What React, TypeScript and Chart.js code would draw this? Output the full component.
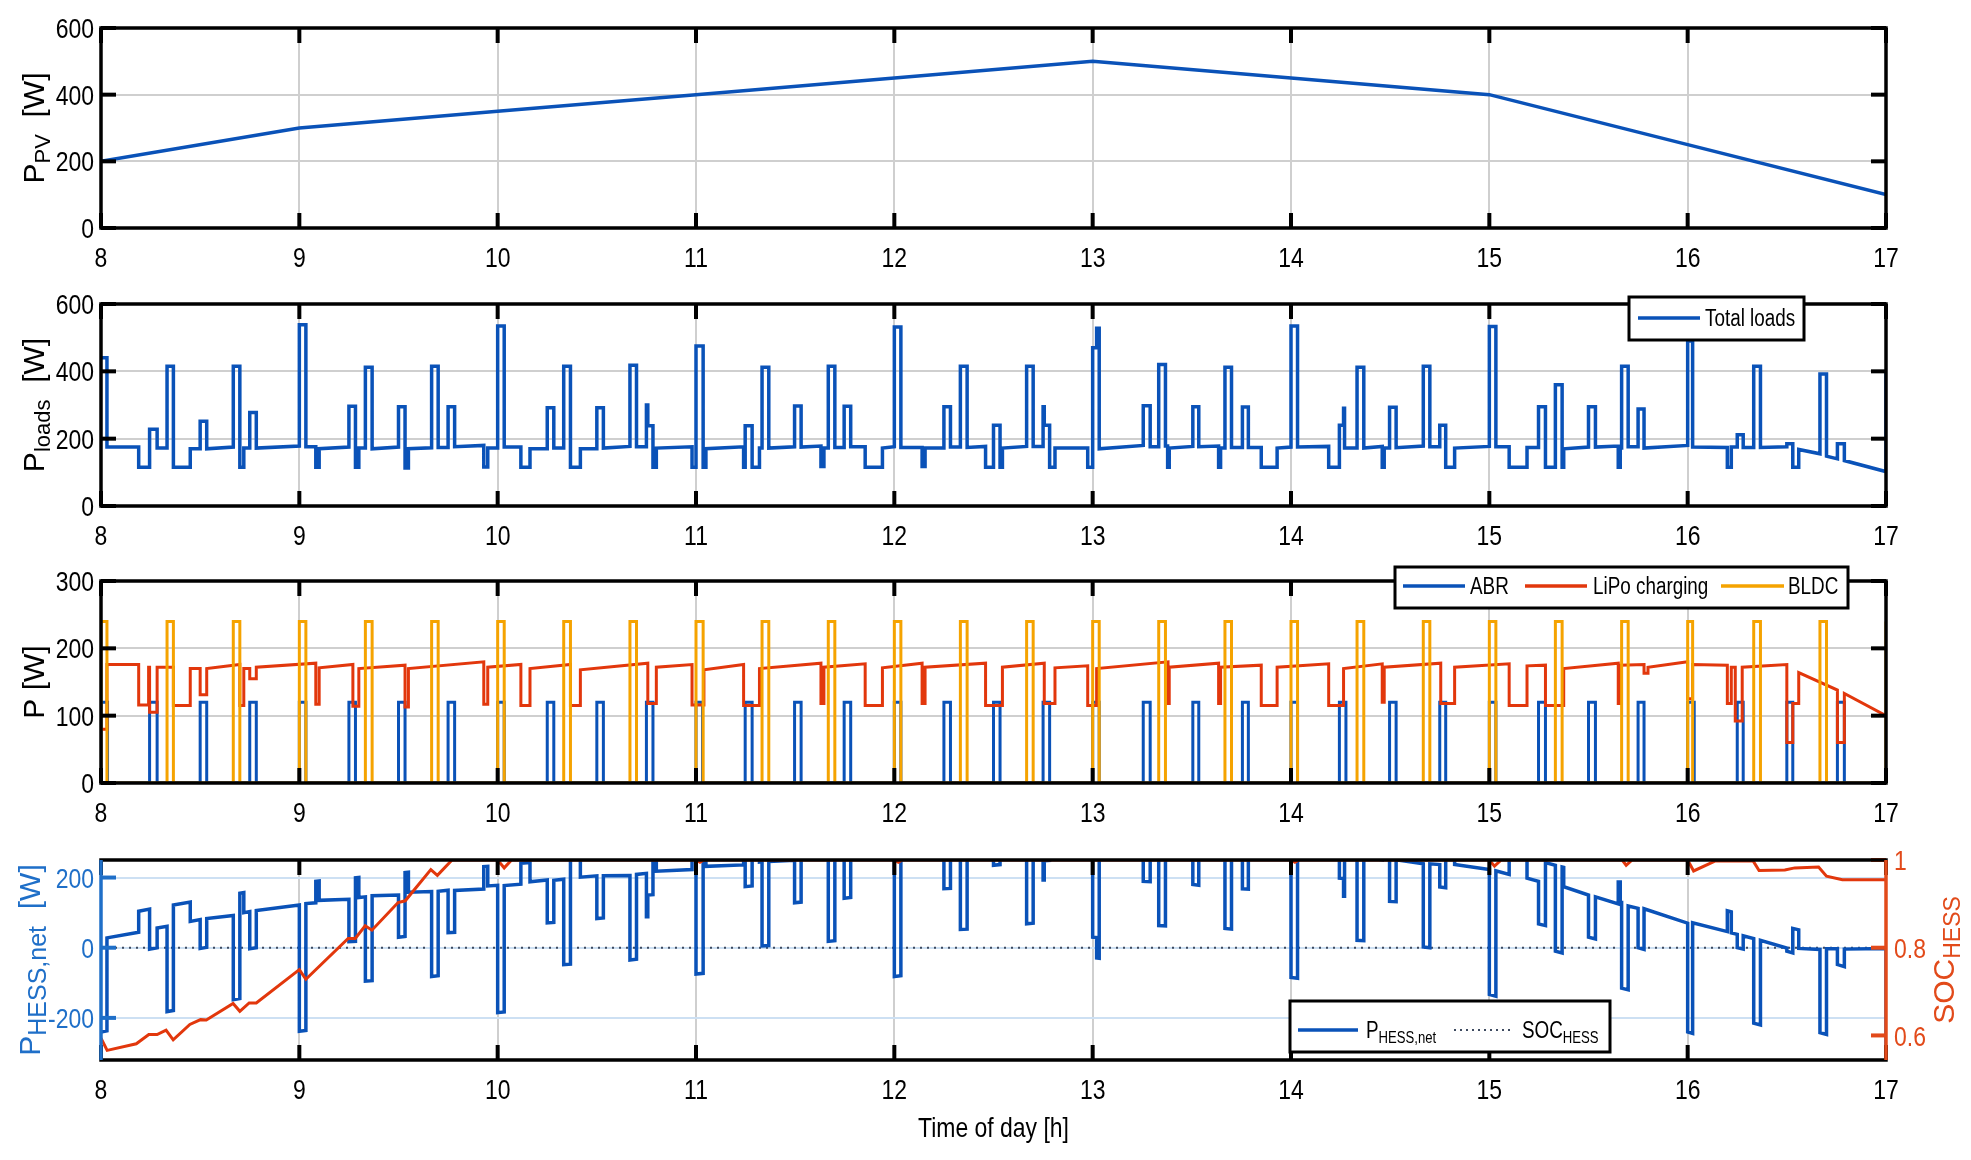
import { useEffect, useRef } from "react";
import { Chart, registerables } from "chart.js";

Chart.register(...registerables);

const SANS = '"Liberation Sans", Arial, sans-serif';
const NARROW_K = 0.82; // horizontal squeeze to mimic Arial Narrow

const BLUE = "#0a52b8";
const RED = "#e2370c";
const ORANGE = "#f5a300";
const AXIS_BLUE = "#1f6fc8";
const AXIS_RED = "#e24a1a";
const GRID = "#cfcfcf";
const GRID_BLUE = "#cde0f3";

const PAGE_W = 1971;
const PLOT_LEFT = 101;
const RIGHT_PAD = 85;
const TICK_SIZE = 28;

// x axis
const hourTicks = [8, 9, 10, 11, 12, 13, 14, 15, 16, 17];

// PV power, hourly values [W]
const pvHours = [8, 9, 10, 11, 12, 13, 14, 15, 16, 17];
const pvWatts = [200, 300, 350, 400, 450, 500, 450, 400, 250, 100];

// segments: [t0, t1, w0, w1?] (w1 defaults to w0)
const totalLoads = [
  [8.0, 8.03, 440], [8.03, 8.19, 175], [8.19, 8.245, 115], [8.245, 8.283, 228],
  [8.283, 8.333, 172], [8.333, 8.365, 415], [8.365, 8.45, 115], [8.45, 8.5, 170],
  [8.5, 8.533, 252], [8.533, 8.667, 170, 175], [8.667, 8.7, 415], [8.7, 8.72, 115],
  [8.72, 8.75, 172], [8.75, 8.783, 278], [8.783, 9.0, 172, 178], [9.0, 9.033, 538],
  [9.033, 9.083, 176], [9.083, 9.1, 115], [9.1, 9.25, 170, 175], [9.25, 9.283, 296],
  [9.283, 9.3, 115], [9.3, 9.333, 172], [9.333, 9.367, 412], [9.367, 9.5, 170, 175],
  [9.5, 9.533, 295], [9.533, 9.55, 113], [9.55, 9.667, 170, 173], [9.667, 9.7, 415],
  [9.7, 9.75, 174], [9.75, 9.783, 295], [9.783, 9.93, 176, 180], [9.93, 9.95, 116],
  [9.95, 10.0, 172], [10.0, 10.033, 535], [10.033, 10.117, 175], [10.117, 10.163, 115],
  [10.163, 10.25, 170], [10.25, 10.283, 292], [10.283, 10.333, 172], [10.333, 10.367, 415],
  [10.367, 10.417, 115], [10.417, 10.5, 170], [10.5, 10.533, 292], [10.533, 10.667, 172, 177],
  [10.667, 10.7, 418], [10.7, 10.75, 176], [10.75, 10.757, 300], [10.757, 10.783, 238],
  [10.783, 10.8, 115], [10.8, 10.98, 172, 176], [10.98, 11.0, 115], [11.0, 11.036, 475],
  [11.036, 11.05, 115], [11.05, 11.24, 170, 176], [11.24, 11.248, 115], [11.248, 11.283, 238],
  [11.283, 11.32, 115], [11.32, 11.333, 172], [11.333, 11.367, 412], [11.367, 11.497, 172, 176],
  [11.497, 11.53, 297], [11.53, 11.63, 175, 178], [11.63, 11.645, 117], [11.645, 11.667, 172],
  [11.667, 11.7, 415], [11.7, 11.747, 174], [11.747, 11.78, 296], [11.78, 11.853, 176],
  [11.853, 11.94, 115], [11.94, 12.0, 172, 176], [12.0, 12.033, 532], [12.033, 12.14, 174],
  [12.14, 12.155, 117], [12.155, 12.25, 172], [12.25, 12.283, 295], [12.283, 12.333, 175],
  [12.333, 12.367, 415], [12.367, 12.46, 174, 177], [12.46, 12.5, 115], [12.5, 12.533, 240],
  [12.533, 12.545, 115], [12.545, 12.667, 172, 177], [12.667, 12.7, 415], [12.7, 12.75, 177],
  [12.75, 12.756, 295], [12.756, 12.783, 240], [12.783, 12.81, 115], [12.81, 12.975, 172],
  [12.975, 13.0, 115], [13.0, 13.02, 470], [13.02, 13.033, 528], [13.033, 13.255, 170, 180],
  [13.255, 13.29, 298], [13.29, 13.333, 176], [13.333, 13.367, 420], [13.367, 13.378, 178],
  [13.378, 13.386, 115], [13.386, 13.505, 172, 177], [13.505, 13.535, 295], [13.535, 13.635, 176, 178],
  [13.635, 13.645, 115], [13.645, 13.667, 172], [13.667, 13.7, 412], [13.7, 13.755, 174],
  [13.755, 13.785, 294], [13.785, 13.85, 174], [13.85, 13.93, 115], [13.93, 14.0, 172, 175],
  [14.0, 14.033, 535], [14.033, 14.19, 175, 177], [14.19, 14.244, 115], [14.244, 14.265, 240],
  [14.265, 14.27, 290], [14.27, 14.333, 172], [14.333, 14.367, 412], [14.367, 14.46, 172, 177],
  [14.46, 14.47, 115], [14.47, 14.497, 172], [14.497, 14.53, 293], [14.53, 14.667, 173, 178],
  [14.667, 14.7, 415], [14.7, 14.75, 176], [14.75, 14.78, 240], [14.78, 14.825, 115],
  [14.825, 15.0, 172, 177], [15.0, 15.033, 533], [15.033, 15.1, 176], [15.1, 15.19, 115],
  [15.19, 15.248, 174], [15.248, 15.283, 295], [15.283, 15.333, 115], [15.333, 15.367, 360],
  [15.367, 15.375, 115], [15.375, 15.5, 170, 175], [15.5, 15.535, 295], [15.535, 15.65, 175, 178],
  [15.65, 15.66, 115], [15.66, 15.667, 172], [15.667, 15.7, 415], [15.7, 15.75, 176],
  [15.75, 15.78, 288], [15.78, 16.0, 172, 180], [16.0, 16.025, 490], [16.025, 16.2, 175, 174],
  [16.2, 16.22, 115], [16.22, 16.25, 175], [16.25, 16.28, 212], [16.28, 16.333, 174],
  [16.333, 16.367, 415], [16.367, 16.5, 174, 176], [16.5, 16.53, 185], [16.53, 16.56, 115],
  [16.56, 16.667, 168, 155], [16.667, 16.7, 392], [16.7, 16.755, 148, 140], [16.755, 16.79, 185],
  [16.79, 17.0, 135, 102], [17.0, 17.05, 398],
];

// pulses: [on, off]
const abrPulses = [
  [8.0, 8.033], [8.245, 8.283], [8.5, 8.533], [8.75, 8.783], [9.0, 9.033], [9.25, 9.283],
  [9.5, 9.533], [9.75, 9.783], [10.0, 10.033], [10.25, 10.283], [10.5, 10.533], [10.75, 10.783],
  [11.0, 11.033], [11.248, 11.283], [11.497, 11.53], [11.747, 11.78], [12.0, 12.033], [12.25, 12.283],
  [12.5, 12.533], [12.75, 12.783], [13.0, 13.033], [13.255, 13.29], [13.505, 13.535], [13.755, 13.785],
  [14.0, 14.033], [14.244, 14.277], [14.497, 14.53], [14.75, 14.78], [15.0, 15.033], [15.248, 15.283],
  [15.5, 15.535], [15.75, 15.78], [16.0, 16.033], [16.25, 16.28], [16.5, 16.53], [16.755, 16.79],
];
const abrLevel = 120;

const bldcPulses = [
  [8.0, 8.03], [8.333, 8.365], [8.667, 8.7], [9.0, 9.033], [9.333, 9.367], [9.667, 9.7],
  [10.0, 10.033], [10.333, 10.367], [10.667, 10.7], [11.0, 11.036], [11.333, 11.367], [11.667, 11.7],
  [12.0, 12.033], [12.333, 12.367], [12.667, 12.7], [13.0, 13.033], [13.333, 13.367], [13.667, 13.7],
  [14.0, 14.033], [14.333, 14.367], [14.667, 14.7], [15.0, 15.033], [15.333, 15.367], [15.667, 15.7],
  [16.0, 16.025], [16.333, 16.367], [16.667, 16.7], [17.0, 17.05],
];
const bldcLevel = 240;

const lipoCharging = [
  [8.0, 8.03, 80], [8.03, 8.19, 176], [8.19, 8.24, 116], [8.24, 8.245, 172],
  [8.245, 8.283, 105], [8.283, 8.365, 172], [8.365, 8.45, 115], [8.45, 8.5, 170],
  [8.5, 8.533, 131], [8.533, 8.7, 170, 176], [8.7, 8.72, 115], [8.72, 8.75, 170],
  [8.75, 8.783, 155], [8.783, 9.083, 172, 178], [9.083, 9.1, 117], [9.1, 9.27, 171, 176],
  [9.27, 9.3, 114], [9.3, 9.533, 170, 175], [9.533, 9.55, 113], [9.55, 9.93, 170, 180],
  [9.93, 9.95, 117], [9.95, 10.117, 172, 176], [10.117, 10.163, 115], [10.163, 10.367, 170, 176],
  [10.367, 10.417, 115], [10.417, 10.757, 168, 178], [10.757, 10.8, 118], [10.8, 10.98, 172, 176],
  [10.98, 11.04, 116], [11.04, 11.24, 168, 176], [11.24, 11.32, 115], [11.32, 11.63, 170, 178],
  [11.63, 11.645, 118], [11.645, 11.853, 172, 177], [11.853, 11.94, 115], [11.94, 12.14, 171, 178],
  [12.14, 12.155, 118], [12.155, 12.46, 172, 178], [12.46, 12.545, 115], [12.545, 12.756, 172, 178],
  [12.756, 12.81, 118], [12.81, 12.975, 171, 174], [12.975, 13.02, 115], [13.02, 13.38, 170, 180],
  [13.38, 13.386, 118], [13.386, 13.635, 172, 178], [13.635, 13.645, 118], [13.645, 13.85, 172, 175],
  [13.85, 13.93, 115], [13.93, 14.19, 172, 177], [14.19, 14.265, 115], [14.265, 14.46, 170, 177],
  [14.46, 14.47, 120], [14.47, 14.755, 172, 178], [14.755, 14.825, 118], [14.825, 15.1, 172, 177],
  [15.1, 15.19, 115], [15.19, 15.283, 174, 175], [15.283, 15.375, 115], [15.375, 15.65, 170, 178],
  [15.65, 15.66, 118], [15.66, 15.78, 175, 176], [15.78, 15.8, 163], [15.8, 16.0, 172, 180],
  [16.0, 16.025, 125], [16.025, 16.2, 176, 175], [16.2, 16.22, 118], [16.22, 16.24, 172],
  [16.24, 16.275, 92], [16.275, 16.5, 172, 176], [16.5, 16.53, 60], [16.53, 16.56, 118],
  [16.56, 16.755, 164, 138], [16.755, 16.79, 60], [16.79, 17.0, 133, 100],
];

const hessNet = [
  [8.0, 8.03, -240, -237], [8.03, 8.19, 28, 44], [8.19, 8.245, 104, 110], [8.245, 8.283, -4, 0],
  [8.283, 8.333, 56, 61], [8.333, 8.365, -182, -179], [8.365, 8.45, 122, 130], [8.45, 8.5, 75, 80],
  [8.5, 8.533, -2, 1], [8.533, 8.667, 83, 92], [8.667, 8.7, -148, -145], [8.7, 8.72, 155, 157],
  [8.72, 8.75, 100, 103], [8.75, 8.783, -3, 0], [8.783, 9.0, 106, 122], [9.0, 9.033, -238, -236],
  [9.033, 9.083, 126, 128], [9.083, 9.1, 189, 190], [9.1, 9.25, 135, 138], [9.25, 9.283, 17, 18],
  [9.283, 9.3, 199, 200], [9.3, 9.333, 143, 145], [9.333, 9.367, -95, -94], [9.367, 9.5, 148, 150],
  [9.5, 9.533, 30, 32], [9.533, 9.55, 214, 215], [9.55, 9.667, 158, 160], [9.667, 9.7, -82, -80],
  [9.7, 9.75, 161, 164], [9.75, 9.783, 43, 44], [9.783, 9.93, 163, 167], [9.93, 9.95, 231, 232],
  [9.95, 10.0, 176, 178], [10.0, 10.033, -185, -183], [10.033, 10.117, 177, 181], [10.117, 10.163, 241, 243],
  [10.163, 10.25, 188, 193], [10.25, 10.283, 71, 72], [10.283, 10.333, 192, 195], [10.333, 10.367, -48, -47],
  [10.367, 10.417, 253, 256], [10.417, 10.5, 201, 205], [10.5, 10.533, 83, 85], [10.533, 10.667, 205, 206],
  [10.667, 10.7, -35, -33], [10.7, 10.75, 209, 212], [10.75, 10.757, 88, 88], [10.757, 10.783, 150, 151],
  [10.783, 10.8, 274, 275], [10.8, 10.98, 218, 223], [10.98, 11.0, 284, 285], [11.0, 11.036, -75, -73],
  [11.036, 11.05, 287, 287], [11.05, 11.24, 232, 236], [11.24, 11.248, 297, 297], [11.248, 11.283, 174, 176],
  [11.283, 11.32, 299, 301], [11.32, 11.333, 244, 245], [11.333, 11.367, 5, 6], [11.367, 11.497, 246, 249],
  [11.497, 11.53, 128, 130], [11.53, 11.63, 252, 254], [11.63, 11.645, 315, 315], [11.645, 11.667, 260, 261],
  [11.667, 11.7, 18, 20], [11.7, 11.747, 261, 263], [11.747, 11.78, 141, 143], [11.78, 11.853, 263, 267],
  [11.853, 11.94, 328, 332], [11.94, 12.0, 275, 274], [12.0, 12.033, -82, -80], [12.033, 12.14, 278, 283],
  [12.14, 12.155, 340, 341], [12.155, 12.25, 286, 291], [12.25, 12.283, 168, 169], [12.283, 12.333, 289, 292],
  [12.333, 12.367, 52, 53], [12.367, 12.46, 294, 296], [12.46, 12.5, 358, 360], [12.5, 12.533, 235, 237],
  [12.533, 12.545, 362, 362], [12.545, 12.667, 305, 306], [12.667, 12.7, 68, 70], [12.7, 12.75, 308, 311],
  [12.75, 12.756, 193, 193], [12.756, 12.783, 248, 249], [12.783, 12.81, 374, 376], [12.81, 12.975, 319, 327],
  [12.975, 13.0, 384, 385], [13.0, 13.02, 30, 29], [13.02, 13.033, -29, -30], [13.033, 13.255, 328, 307],
  [13.255, 13.29, 189, 188], [13.29, 13.333, 310, 307], [13.333, 13.367, 63, 62], [13.367, 13.378, 304, 304],
  [13.378, 13.386, 366, 366], [13.386, 13.505, 309, 298], [13.505, 13.535, 180, 178], [13.535, 13.635, 297, 290],
  [13.635, 13.645, 353, 353], [13.645, 13.667, 296, 295], [13.667, 13.7, 55, 53], [13.7, 13.755, 291, 288],
  [13.755, 13.785, 168, 167], [13.785, 13.85, 287, 284], [13.85, 13.93, 343, 339], [13.93, 14.0, 282, 275],
  [14.0, 14.033, -85, -87], [14.033, 14.19, 273, 264], [14.19, 14.244, 326, 323], [14.244, 14.265, 198, 197],
  [14.265, 14.27, 147, 147], [14.27, 14.333, 265, 261], [14.333, 14.367, 21, 20], [14.367, 14.46, 260, 250],
  [14.46, 14.47, 312, 312], [14.47, 14.497, 255, 253], [14.497, 14.53, 132, 131], [14.53, 14.667, 251, 239],
  [14.667, 14.7, 2, 0], [14.7, 14.75, 239, 237], [14.75, 14.78, 173, 171], [14.78, 14.825, 296, 294],
  [14.825, 15.0, 237, 223], [15.0, 15.033, -133, -138], [15.033, 15.1, 219, 209], [15.1, 15.19, 270, 257],
  [15.19, 15.248, 198, 189], [15.248, 15.283, 68, 63], [15.283, 15.333, 243, 235], [15.333, 15.367, -10, -15],
  [15.367, 15.375, 230, 229], [15.375, 15.5, 174, 150], [15.5, 15.535, 30, 25], [15.535, 15.65, 145, 125],
  [15.65, 15.66, 187, 187], [15.66, 15.667, 129, 129], [15.667, 15.7, -115, -120], [15.7, 15.75, 119, 112],
  [15.75, 15.78, 0, -5], [15.78, 16.0, 111, 70], [16.0, 16.025, -240, -244], [16.025, 16.2, 71, 46],
  [16.2, 16.22, 105, 102], [16.22, 16.25, 42, 38], [16.25, 16.28, 0, -4], [16.28, 16.333, 34, 26],
  [16.333, 16.367, -215, -220], [16.367, 16.5, 21, -1], [16.5, 16.53, -10, -15], [16.53, 16.56, 55, 51],
  [16.56, 16.667, -2, -5], [16.667, 16.7, -242, -247], [16.7, 16.755, -3, -3], [16.755, 16.79, -48, -54],
  [16.79, 17.0, -4, -2], [17.0, 17.05, -300, -300],
];

// state of charge: [hour, soc]
const socPoints = [
  [8.0, 0.594], [8.031, 0.566], [8.178, 0.581], [8.241, 0.602], [8.283, 0.602], [8.328, 0.612],
  [8.364, 0.59], [8.448, 0.625], [8.502, 0.636], [8.531, 0.635], [8.666, 0.673], [8.7, 0.655],
  [8.747, 0.674], [8.783, 0.674], [9.0, 0.75], [9.033, 0.728], [9.246, 0.821], [9.282, 0.821],
  [9.332, 0.85], [9.366, 0.84], [9.498, 0.903], [9.534, 0.907], [9.663, 0.978], [9.696, 0.965],
  [9.77, 1.0], [10.0, 1.0], [10.033, 0.982], [10.07, 1.0], [11.0, 1.0], [11.02, 0.995],
  [11.04, 1.0], [12.0, 1.0], [12.02, 0.995], [12.04, 1.0], [14.0, 1.0], [14.02, 0.995],
  [14.04, 1.0], [15.0, 1.0], [15.026, 0.986], [15.06, 1.0], [15.67, 1.0], [15.69, 0.988],
  [15.72, 1.0], [16.0, 1.0], [16.03, 0.975], [16.14, 0.998], [16.33, 0.998], [16.36, 0.976],
  [16.49, 0.977], [16.54, 0.982], [16.66, 0.984], [16.7, 0.963], [16.78, 0.955], [17.0, 0.955],
];
const socZero = [[8, 0], [17, 0]];

const wattTicks600 = [0, 200, 400, 600];
const wattTicks300 = [0, 100, 200, 300];
const hessTicks = [-200, 0, 200];
const socTicks = [0.6, 0.8, 1];

// helpers
const segPoints = (segs: number[][]) =>
  segs.flatMap(([t0, t1, w0, w1]) => [
    { x: t0, y: w0 },
    { x: t1, y: w1 ?? w0 },
  ]);

const pulsePoints = (pulses: number[][], level: number) => {
  const pts = [{ x: 8, y: 0 }];
  pulses.forEach(([a, b]) => {
    pts.push({ x: a, y: 0 }, { x: a, y: level }, { x: b, y: level }, { x: b, y: 0 });
  });
  const last = pulses[pulses.length - 1][1];
  if (last < 17) pts.push({ x: 17, y: 0 });
  return pts;
};

type Part = { text: string; sub?: boolean };

// text with subscripts; k squeezes it horizontally
function drawRich(ctx, parts: Part[], x, y, size, subSize, color, align, k = 1) {
  const fontOf = (p: Part) => `${p.sub ? subSize : size}px ${SANS}`;
  const widths = parts.map((p) => {
    ctx.font = fontOf(p);
    return ctx.measureText(p.text).width;
  });
  const total = widths.reduce((a, b) => a + b, 0) * k;
  const start = align === "center" ? x - total / 2 : align === "right" ? x - total : x;
  ctx.save();
  ctx.translate(start, y);
  ctx.scale(k, 1);
  ctx.fillStyle = color;
  ctx.textAlign = "left";
  ctx.textBaseline = "alphabetic";
  let cx = 0;
  parts.forEach((p, i) => {
    ctx.font = fontOf(p);
    ctx.fillText(p.text, cx, size * 0.36 + (p.sub ? size * 0.2 : 0));
    cx += widths[i];
  });
  ctx.restore();
}

// MATLAB-like box with inward ticks and narrow tick labels
const framePlugin = (leftColor: string, rightColor: string) => ({
  id: "frame",
  afterDatasetsDraw(chart) {
    const { ctx, chartArea: a, scales } = chart;
    const len = 15;
    const line = (x1, y1, x2, y2) => {
      ctx.beginPath();
      ctx.moveTo(x1, y1);
      ctx.lineTo(x2, y2);
      ctx.stroke();
    };
    ctx.save();
    ctx.lineWidth = 4;
    ctx.strokeStyle = "#000";
    scales.x.ticks.forEach((t) => {
      const px = scales.x.getPixelForValue(t.value);
      line(px, a.top, px, a.top + len);
      line(px, a.bottom, px, a.bottom - len);
    });
    scales.y.ticks.forEach((t) => {
      const py = scales.y.getPixelForValue(t.value);
      ctx.strokeStyle = leftColor;
      line(a.left, py, a.left + len, py);
      if (!scales.y1) {
        ctx.strokeStyle = rightColor;
        line(a.right, py, a.right - len, py);
      }
    });
    if (scales.y1) {
      ctx.strokeStyle = rightColor;
      scales.y1.ticks.forEach((t) => {
        const py = scales.y1.getPixelForValue(t.value);
        line(a.right, py, a.right - len, py);
      });
    }
    ctx.lineWidth = 3.5;
    ctx.strokeStyle = "#000";
    line(a.left - 1.75, a.top, a.right + 1.75, a.top);
    line(a.left - 1.75, a.bottom, a.right + 1.75, a.bottom);
    ctx.strokeStyle = leftColor;
    line(a.left, a.top, a.left, a.bottom);
    ctx.strokeStyle = rightColor;
    line(a.right, a.top, a.right, a.bottom);

    const label = (v, x, y, align, color) =>
      drawRich(ctx, [{ text: String(v) }], x, y, TICK_SIZE, 18, color, align, NARROW_K);
    scales.x.ticks.forEach((t) => label(t.value, scales.x.getPixelForValue(t.value), a.bottom + 29, "center", "#000"));
    scales.y.ticks.forEach((t) => label(t.value, a.left - 7, scales.y.getPixelForValue(t.value), "right", leftColor));
    if (scales.y1) {
      scales.y1.ticks.forEach((t) => label(t.value, a.right + 8, scales.y1.getPixelForValue(t.value), "left", rightColor));
    }
    ctx.restore();
  },
});

type Title = { parts: Part[]; x: number; y?: number; color: string; rotate?: boolean; size: number; subSize: number; k?: number };

const titlesPlugin = (titles: Title[]) => ({
  id: "axisTitles",
  afterDraw(chart) {
    const { ctx, chartArea } = chart;
    titles.forEach((t) => {
      ctx.save();
      ctx.translate(t.x, t.y ?? (chartArea.top + chartArea.bottom) / 2);
      if (t.rotate) ctx.rotate(-Math.PI / 2);
      drawRich(ctx, t.parts, 0, 0, t.size, t.subSize, t.color, "center", t.k ?? 1);
      ctx.restore();
    });
  },
});

type LegendItem = { x0: number; x1: number; color: string; dash?: number[]; width?: number; textX: number; parts: Part[] };

const legendPlugin = (box: number[], textY: number, items: LegendItem[]) => ({
  id: "legendBox",
  afterDraw(chart) {
    const ctx = chart.ctx;
    const [x0, y0, x1, y1] = box;
    ctx.save();
    ctx.fillStyle = "#fff";
    ctx.fillRect(x0, y0, x1 - x0, y1 - y0);
    ctx.lineWidth = 3;
    ctx.strokeStyle = "#000";
    ctx.strokeRect(x0, y0, x1 - x0, y1 - y0);
    items.forEach((it) => {
      ctx.beginPath();
      ctx.setLineDash(it.dash ?? []);
      ctx.strokeStyle = it.color;
      ctx.lineWidth = it.width ?? 3.5;
      ctx.moveTo(it.x0, textY);
      ctx.lineTo(it.x1, textY);
      ctx.stroke();
      ctx.setLineDash([]);
      drawRich(ctx, it.parts, it.textX, textY, 23, 16, "#000", "left", NARROW_K);
    });
    ctx.restore();
  },
});

const xScale = (xh: number) => ({
  type: "linear",
  min: 8,
  max: 17,
  afterBuildTicks: (s) => {
    s.ticks = hourTicks.map((value) => ({ value }));
  },
  afterFit: (s) => {
    s.height = xh;
  },
  ticks: { display: false },
  grid: { color: GRID, lineWidth: 2, drawTicks: false },
  border: { display: false },
});

const yScale = (min: number, max: number, ticks: number[], gridColor = GRID) => ({
  type: "linear",
  min,
  max,
  afterBuildTicks: (s) => {
    s.ticks = ticks.map((value) => ({ value }));
  },
  afterFit: (s) => {
    s.width = PLOT_LEFT;
  },
  ticks: { display: false },
  grid: { color: gridColor, lineWidth: 2, drawTicks: false },
  border: { display: false },
});

const lineStyle = { pointRadius: 0, tension: 0, fill: false, borderWidth: 3.5 };

const baseOptions = (padTop: number, padRight: number, scales) => ({
  responsive: false,
  animation: false,
  devicePixelRatio: 1,
  layout: { padding: { top: padTop, right: padRight, bottom: 0, left: 0 } },
  plugins: { legend: { display: false }, tooltip: { enabled: false } },
  scales,
});

const yTitle = (parts: Part[], x = 33, color = "#000", subSize = 22): Title => ({
  parts,
  x,
  color,
  rotate: true,
  size: 30,
  subSize,
});

const pvConfig = () => ({
  type: "line",
  data: {
    datasets: [
      { ...lineStyle, data: pvHours.map((x, i) => ({ x, y: pvWatts[i] })), borderColor: BLUE },
    ],
  },
  options: baseOptions(28, RIGHT_PAD, { x: xScale(52), y: yScale(0, 600, wattTicks600) }),
  plugins: [framePlugin("#000", "#000"), titlesPlugin([yTitle([{ text: "P" }, { text: "PV", sub: true }, { text: "  [W]" }])])],
});

const loadsConfig = () => ({
  type: "line",
  data: {
    datasets: [{ ...lineStyle, label: "Total loads", data: segPoints(totalLoads), borderColor: BLUE }],
  },
  options: baseOptions(24, RIGHT_PAD, { x: xScale(52), y: yScale(0, 600, wattTicks600) }),
  plugins: [
    framePlugin("#000", "#000"),
    titlesPlugin([yTitle([{ text: "P" }, { text: "loads", sub: true }, { text: "  [W]" }])]),
    legendPlugin([1629, 17, 1804, 60], 38, [
      { x0: 1638, x1: 1700, color: BLUE, textX: 1705, parts: [{ text: "Total loads" }] },
    ]),
  ],
});

const componentsConfig = () => ({
  type: "line",
  data: {
    datasets: [
      { ...lineStyle, borderWidth: 3, label: "ABR", data: pulsePoints(abrPulses, abrLevel), borderColor: BLUE, order: 2 },
      { ...lineStyle, borderWidth: 3, label: "LiPo charging", data: segPoints(lipoCharging), borderColor: RED, order: 1 },
      { ...lineStyle, borderWidth: 3, label: "BLDC", data: pulsePoints(bldcPulses, bldcLevel), borderColor: ORANGE, order: 0 },
    ],
  },
  options: baseOptions(23, RIGHT_PAD, { x: xScale(52), y: yScale(0, 300, wattTicks300) }),
  plugins: [
    framePlugin("#000", "#000"),
    titlesPlugin([yTitle([{ text: "P [W]" }])]),
    legendPlugin([1395, 9, 1848, 50], 28, [
      { x0: 1403, x1: 1465, color: BLUE, textX: 1470, parts: [{ text: "ABR" }] },
      { x0: 1525, x1: 1587, color: RED, textX: 1593, parts: [{ text: "LiPo charging" }] },
      { x0: 1721, x1: 1784, color: ORANGE, textX: 1788, parts: [{ text: "BLDC" }] },
    ]),
  ],
});

const hessConfig = () => ({
  type: "line",
  data: {
    datasets: [
      { ...lineStyle, label: "SOC", data: socPoints.map(([x, y]) => ({ x, y })), borderColor: RED, borderWidth: 3, yAxisID: "y1", order: 0 },
      { ...lineStyle, label: "P_HESS,net", data: segPoints(hessNet), borderColor: BLUE, yAxisID: "y", order: 1 },
      { ...lineStyle, label: "SOC_HESS", data: socZero.map(([x, y]) => ({ x, y })), borderColor: "#3d4a60", borderWidth: 2, borderDash: [2, 5], yAxisID: "y", order: 2 },
    ],
  },
  options: baseOptions(25, 0, {
    x: xScale(100),
    y: yScale(-320, 250, hessTicks, GRID_BLUE),
    y1: {
      type: "linear",
      position: "right",
      min: 0.544,
      max: 1,
      afterBuildTicks: (s) => {
        s.ticks = socTicks.map((value) => ({ value }));
      },
      afterFit: (s) => {
        s.width = RIGHT_PAD;
      },
      ticks: { display: false },
      grid: { display: false },
      border: { display: false },
    },
  }),
  plugins: [
    framePlugin(AXIS_BLUE, AXIS_RED),
    titlesPlugin([
      yTitle([{ text: "P" }, { text: "HESS,net", sub: true }, { text: "  [W]" }], 29, AXIS_BLUE, 25),
      yTitle([{ text: "SOC" }, { text: "HESS", sub: true }], 1943, AXIS_RED, 23),
      { parts: [{ text: "Time of day [h]" }], x: (PLOT_LEFT + PAGE_W - RIGHT_PAD) / 2, y: 292, color: "#000", size: 28, subSize: 20, k: NARROW_K },
    ]),
    legendPlugin([1290, 166, 1610, 217], 195, [
      { x0: 1298, x1: 1358, color: BLUE, textX: 1366, parts: [{ text: "P" }, { text: "HESS,net", sub: true }] },
      { x0: 1454, x1: 1514, color: "#3d4a60", dash: [2, 4], width: 2, textX: 1522, parts: [{ text: "SOC" }, { text: "HESS", sub: true }] },
    ]),
  ],
});

function PlotCanvas({ top, height, config }) {
  const canvasRef = useRef<HTMLCanvasElement>(null);

  useEffect(() => {
    if (!canvasRef.current) return;
    const chart = new Chart(canvasRef.current, config());
    return () => {
      chart.destroy();
    };
  }, []);

  return (
    <canvas
      ref={canvasRef}
      width={PAGE_W}
      height={height}
      style={{ position: "absolute", left: 0, top, width: PAGE_W, height }}
    />
  );
}

export default function App() {
  return (
    <div style={{ position: "absolute", left: 0, top: 0, width: PAGE_W, height: 1160, background: "#fff", overflow: "hidden" }}>
      <PlotCanvas top={0} height={280} config={pvConfig} />
      <PlotCanvas top={280} height={278} config={loadsConfig} />
      <PlotCanvas top={558} height={277} config={componentsConfig} />
      <PlotCanvas top={835} height={325} config={hessConfig} />
    </div>
  );
}
